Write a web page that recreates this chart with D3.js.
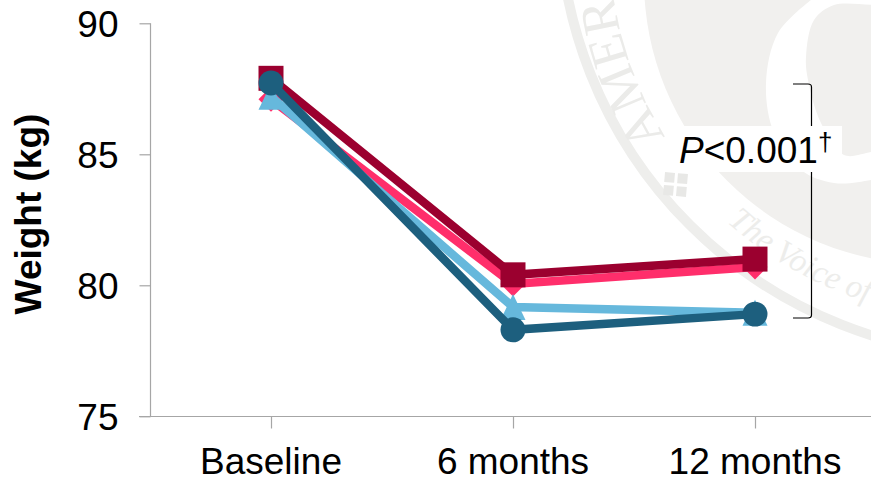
<!DOCTYPE html>
<html><head><meta charset="utf-8">
<script src="https://cdn.jsdelivr.net/npm/d3@7"></script>
<style>html,body{margin:0;padding:0;background:#fff}svg{display:block}text{font-family:"Liberation Sans",Arial,sans-serif;fill:#000}</style>
</head><body><svg id="c" width="871" height="478"></svg>
<script>
const categories = ["Baseline", "6 months", "12 months"];
const yTicks = [75, 80, 85, 90];
const pinkValues = [87.1, 80.05, 80.7];
const burgundyValues = [87.9, 80.4, 81.0];
const lightBlueValues = [87.2, 79.17, 78.95];
const darkBlueValues = [87.72, 78.3, 78.9];
const centeredTriangle = {draw(ctx, size) {
  const h = Math.sqrt(size) / 2;
  ctx.moveTo(0, -h - 0.5); ctx.lineTo(h, h + 0.5); ctx.lineTo(-h, h + 0.5); ctx.closePath();
}};
const seriesList = [
  {values: pinkValues, color: "#ff2e6b", symbol: d3.symbolDiamond2, size: 398},
  {values: burgundyValues, color: "#9b002f", symbol: d3.symbolSquare, size: 625},
  {values: lightBlueValues, color: "#66b8dc", symbol: centeredTriangle, size: 625},
  {values: darkBlueValues, color: "#1d5f7e", symbol: d3.symbolCircle, size: 490}
];
const svg = d3.select("#c");
const x = d3.scalePoint().domain(categories).range([271, 755]);
const y = d3.scaleLinear().domain([75, 90]).range([416.3, 23.3]);

// faint seal behind the chart
const wm = svg.append("g");
const cx = 1006, cy = -91, tcx = 980, tcy = -60, discFill = "#f1f0ee", ringFill = "#eeeeec";
wm.append("circle").attr("cx", cx).attr("cy", cy).attr("r", 447).attr("fill", "none").attr("stroke", ringFill).attr("stroke-width", 10);
wm.append("circle").attr("cx", 928).attr("cy", -20).attr("r", 284).attr("fill", discFill);
wm.append("path").attr("fill", "#fff").attr("d", d3.line().curve(d3.curveCatmullRom)([
  [811,0],[778,33],[766,83],[774,133],[801,170],[834,183],[871,180],[885,176],
  [885,150],[871,152],[844,155],[821,123],[808,80],[806,57],[814,20],[834,5],[885,3],[885,-5],[815,-5],[811,0]
]));
const defs = svg.append("defs");
const a0 = 32 * Math.PI / 180, rTop = 371;
defs.append("path").attr("id", "arcTop").attr("d",
  `M ${tcx - rTop * Math.cos(a0)} ${tcy + rTop * Math.sin(a0)} A ${rTop} ${rTop} 0 0 1 ${tcx} ${tcy - rTop}`);
const rLow = 379;
defs.append("path").attr("id", "arcLow").attr("d", `M ${tcx - rLow} ${tcy} A ${rLow} ${rLow} 0 0 0 ${tcx + rLow} ${tcy}`);
wm.append("text").attr("font-size", 52).style("font-family", "Liberation Serif").style("fill", "#ebebe9")
  .append("textPath").attr("href", "#arcTop").text("AMERI");
wm.append("text").attr("font-size", 33).style("font-family", "Liberation Serif").style("font-style", "italic").style("fill", "#ededeb")
  .append("textPath").attr("href", "#arcLow").attr("startOffset", 318).text("The Voice of C");
const sq = wm.append("g").attr("transform", "translate(675.5,184.5) rotate(5)").attr("fill", "#e8e8e6");
[[-11.5,-11.5],[1.5,-11.5],[-11.5,1.5],[1.5,1.5]].forEach(p => sq.append("rect").attr("x", p[0]).attr("y", p[1]).attr("width", 10).attr("height", 10));

// axes
const yAxis = d3.axisLeft(y).tickValues(yTicks).tickSize(11).tickPadding(21);
const xAxis = d3.axisBottom(x).tickSize(12).tickPadding(19);
const gy = svg.append("g").attr("transform", "translate(150.5,0)").call(yAxis);
const gx = svg.append("g").attr("transform", "translate(0,416.5)").call(xAxis);
gx.select(".domain").attr("d", "M139,0H871");
gy.select(".domain").attr("d", "M0,23.3V416.3");
[gx, gy].forEach(g => {
  g.selectAll(".domain,.tick line").attr("stroke", "#a6a6a6").attr("stroke-width", 1.2);
  g.selectAll("text").attr("font-size", 37).attr("fill", "#000").style("font-family", "Liberation Sans");
});
gy.selectAll("text").attr("dy", "0.35em");
gx.selectAll("text").attr("dy", "0.71em").attr("dx", -0.5);

svg.append("text").attr("transform", "translate(41,214) rotate(-90)").attr("text-anchor", "middle")
  .attr("font-size", 37).attr("font-weight", "bold").text("Weight (kg)");

// series
const line = d3.line().x((d, i) => x(categories[i])).y(d => y(d));
seriesList.forEach(s => {
  svg.append("path").attr("d", line(s.values)).attr("fill", "none").attr("stroke", s.color).attr("stroke-width", 8.5);
  s.values.forEach((v, i) => {
    svg.append("path").attr("d", d3.symbol(s.symbol, s.size)()).attr("fill", s.color)
      .attr("transform", `translate(${x(categories[i])},${y(v)})`);
  });
});

// bracket + label
svg.append("path").attr("d", "M793,84 H808 Q811.5,84 811.5,87 V315 Q811.5,318 808,318 H793").attr("fill", "none").attr("stroke", "#000").attr("stroke-width", 1.2);
svg.append("rect").attr("x", 668).attr("y", 126).attr("width", 174).attr("height", 46).attr("fill", "#fff");
const t = svg.append("text").attr("x", 679).attr("y", 163).attr("font-size", 37);
t.append("tspan").style("font-style", "italic").text("P");
t.append("tspan").text("<0.001");
t.append("tspan").attr("font-size", 26).attr("dy", -12).text("†");
</script></body></html>
